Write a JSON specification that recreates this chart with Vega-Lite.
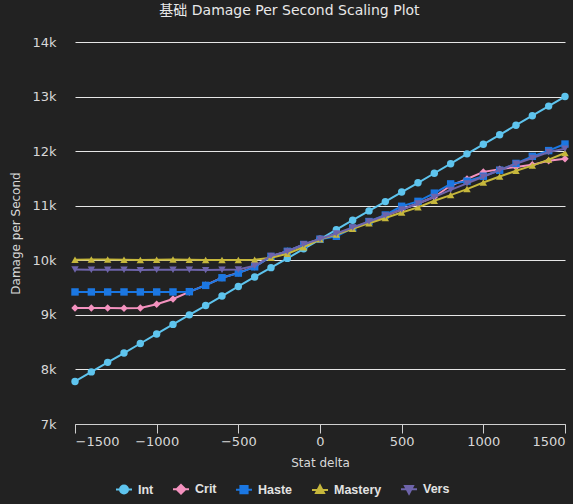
{
  "$schema": "https://vega.github.io/schema/vega-lite/v6.json",
  "width": 490,
  "height": 382,
  "autosize": {"type": "none"},
  "padding": {"left": 75, "top": 42, "right": 8, "bottom": 80},
  "background": "#222222",
  "title": {
    "text": "基础 Damage Per Second Scaling Plot",
    "color": "#e8e8e8",
    "fontSize": 14,
    "fontWeight": "normal",
    "font": "DejaVu Sans, Noto Sans CJK SC",
    "anchor": "middle",
    "frame": "bounds",
    "offset": 18
  },
  "config": {
    "view": {"stroke": null},
    "font": "DejaVu Sans"
  },
  "data": {
    "values": [
      {"d": -1500, "Int": 7780, "Crit": 9125, "Haste": 9420, "Mastery": 10010, "Vers": 9830},
      {"d": -1400, "Int": 7955, "Crit": 9125, "Haste": 9420, "Mastery": 10015, "Vers": 9825},
      {"d": -1300, "Int": 8130, "Crit": 9125, "Haste": 9420, "Mastery": 10015, "Vers": 9825},
      {"d": -1200, "Int": 8300, "Crit": 9120, "Haste": 9420, "Mastery": 10010, "Vers": 9825},
      {"d": -1100, "Int": 8475, "Crit": 9125, "Haste": 9420, "Mastery": 10005, "Vers": 9820},
      {"d": -1000, "Int": 8650, "Crit": 9195, "Haste": 9420, "Mastery": 10010, "Vers": 9825},
      {"d": -900, "Int": 8825, "Crit": 9290, "Haste": 9420, "Mastery": 10015, "Vers": 9825},
      {"d": -800, "Int": 9000, "Crit": 9420, "Haste": 9425, "Mastery": 10010, "Vers": 9825},
      {"d": -700, "Int": 9170, "Crit": 9545, "Haste": 9540, "Mastery": 10005, "Vers": 9820},
      {"d": -600, "Int": 9345, "Crit": 9680, "Haste": 9680, "Mastery": 10005, "Vers": 9825},
      {"d": -500, "Int": 9520, "Crit": 9770, "Haste": 9765, "Mastery": 10005, "Vers": 9830},
      {"d": -400, "Int": 9695, "Crit": 9880, "Haste": 9880, "Mastery": 10010, "Vers": 9900},
      {"d": -300, "Int": 9865, "Crit": 10070, "Haste": 10070, "Mastery": 10045, "Vers": 10080},
      {"d": -200, "Int": 10035, "Crit": 10165, "Haste": 10165, "Mastery": 10120, "Vers": 10160},
      {"d": -100, "Int": 10210, "Crit": 10285, "Haste": 10290, "Mastery": 10240, "Vers": 10295},
      {"d": 0, "Int": 10385, "Crit": 10385, "Haste": 10385, "Mastery": 10385, "Vers": 10390},
      {"d": 100, "Int": 10560, "Crit": 10480, "Haste": 10440, "Mastery": 10470, "Vers": 10490},
      {"d": 200, "Int": 10735, "Crit": 10590, "Haste": 10590, "Mastery": 10575, "Vers": 10600},
      {"d": 300, "Int": 10905, "Crit": 10700, "Haste": 10710, "Mastery": 10680, "Vers": 10710},
      {"d": 400, "Int": 11075, "Crit": 10815, "Haste": 10830, "Mastery": 10775, "Vers": 10820},
      {"d": 500, "Int": 11250, "Crit": 10930, "Haste": 10990, "Mastery": 10875, "Vers": 10930},
      {"d": 600, "Int": 11420, "Crit": 11040, "Haste": 11080, "Mastery": 10970, "Vers": 11040},
      {"d": 700, "Int": 11595, "Crit": 11160, "Haste": 11230, "Mastery": 11090, "Vers": 11160},
      {"d": 800, "Int": 11770, "Crit": 11370, "Haste": 11400, "Mastery": 11195, "Vers": 11290},
      {"d": 900, "Int": 11950, "Crit": 11490, "Haste": 11450, "Mastery": 11305, "Vers": 11410},
      {"d": 1000, "Int": 12125, "Crit": 11620, "Haste": 11540, "Mastery": 11425, "Vers": 11530},
      {"d": 1100, "Int": 12300, "Crit": 11670, "Haste": 11650, "Mastery": 11535, "Vers": 11655},
      {"d": 1200, "Int": 12475, "Crit": 11710, "Haste": 11775, "Mastery": 11640, "Vers": 11770},
      {"d": 1300, "Int": 12650, "Crit": 11750, "Haste": 11905, "Mastery": 11735, "Vers": 11875},
      {"d": 1400, "Int": 12825, "Crit": 11825, "Haste": 12010, "Mastery": 11845, "Vers": 11985},
      {"d": 1500, "Int": 13000, "Crit": 11860, "Haste": 12130, "Mastery": 11965, "Vers": 12045}
    ]
  },
  "transform": [
    {"fold": ["Int", "Crit", "Haste", "Mastery", "Vers"], "as": ["stat", "dps"]}
  ],
  "encoding": {
    "x": {
      "field": "d",
      "type": "quantitative",
      "scale": {"domain": [-1500, 1500], "nice": false, "zero": false},
      "axis": {
        "title": "Stat delta",
        "values": [-1500, -1000, -500, 0, 500, 1000, 1500],
        "format": "d",
        "grid": false,
        "domainColor": "#d0d0d0",
        "tickColor": "#d0d0d0",
        "tickSize": 9,
        "labelColor": "#d8d8d8",
        "labelFontSize": 13,
        "labelPadding": 2,
        "labelFont": "DejaVu Sans",
        "titleColor": "#d8d8d8",
        "titleFontSize": 12,
        "titleFontWeight": "normal",
        "titleFont": "DejaVu Sans",
        "titlePadding": 9
      }
    },
    "y": {
      "field": "dps",
      "type": "quantitative",
      "scale": {"domain": [7000, 14000], "nice": false, "zero": false},
      "axis": {
        "title": "Damage per Second",
        "values": [7000, 8000, 9000, 10000, 11000, 12000, 13000, 14000],
        "labelExpr": "datum.value / 1000 + 'k'",
        "grid": true,
        "gridColor": "#e6e6e6",
        "gridWidth": 1,
        "domain": false,
        "ticks": false,
        "labelPadding": 19,
        "labelColor": "#d8d8d8",
        "labelFontSize": 13,
        "labelFont": "DejaVu Sans",
        "titleColor": "#d8d8d8",
        "titleFontSize": 12,
        "titleFontWeight": "normal",
        "titleFont": "DejaVu Sans",
        "titlePadding": 9
      }
    },
    "color": {
      "field": "stat",
      "type": "nominal",
      "scale": {
        "domain": ["Int", "Crit", "Haste", "Mastery", "Vers"],
        "range": ["#5ec4ee", "#f492bf", "#1b77e2", "#c6b73c", "#6e64ab"]
      },
      "legend": {
        "title": null,
        "orient": "none",
        "legendX": 40,
        "legendY": 438,
        "direction": "horizontal",
        "labelColor": "#e2e2e2",
        "labelFontSize": 12.5,
        "labelFontWeight": "bold",
        "labelFont": "Liberation Sans",
        "labelOffset": 5,
        "columnPadding": 15,
        "symbolSize": 256,
        "symbolStrokeWidth": 2,
        "encode": {
          "symbols": {
            "update": {
              "shape": {"signal": "datum.value === 'Int' ? 'M-1,0H1M0.5,0A0.5,0.5,0,1,1,-0.5,0A0.5,0.5,0,1,1,0.5,0Z' : datum.value === 'Crit' ? 'M-1,0H1M0,-0.55L0.55,0L0,0.55L-0.55,0Z' : datum.value === 'Haste' ? 'M-1,0H1M-0.45,-0.45H0.45V0.45H-0.45Z' : datum.value === 'Mastery' ? 'M-1,0H1M0,-0.55L0.5,0.4L-0.5,0.4Z' : 'M-1,0H1M0,0.55L0.5,-0.4L-0.5,-0.4Z'"},
              "fill": {"signal": "scale('color', datum.value)"},
              "stroke": {"signal": "scale('color', datum.value)"},
              "strokeWidth": {"value": 2},
              "opacity": {"value": 1}
            }
          }
        }
      }
    }
  },
  "layer": [
    {
      "transform": [{"filter": "datum.stat === 'Int'"}],
      "mark": {"type": "line", "strokeWidth": 2, "point": {"filled": true, "opacity": 1, "size": 55, "shape": "circle"}}
    },
    {
      "transform": [{"filter": "datum.stat === 'Crit'"}],
      "mark": {"type": "line", "strokeWidth": 2, "point": {"filled": true, "opacity": 1, "size": 55, "shape": "diamond"}}
    },
    {
      "transform": [{"filter": "datum.stat === 'Haste'"}],
      "mark": {"type": "line", "strokeWidth": 2, "point": {"filled": true, "opacity": 1, "size": 55, "shape": "square"}}
    },
    {
      "transform": [{"filter": "datum.stat === 'Mastery'"}],
      "mark": {"type": "line", "strokeWidth": 2, "point": {"filled": true, "opacity": 1, "size": 55, "shape": "triangle-up"}}
    },
    {
      "transform": [{"filter": "datum.stat === 'Vers'"}],
      "mark": {"type": "line", "strokeWidth": 2, "point": {"filled": true, "opacity": 1, "size": 55, "shape": "triangle-down"}}
    }
  ]
}
